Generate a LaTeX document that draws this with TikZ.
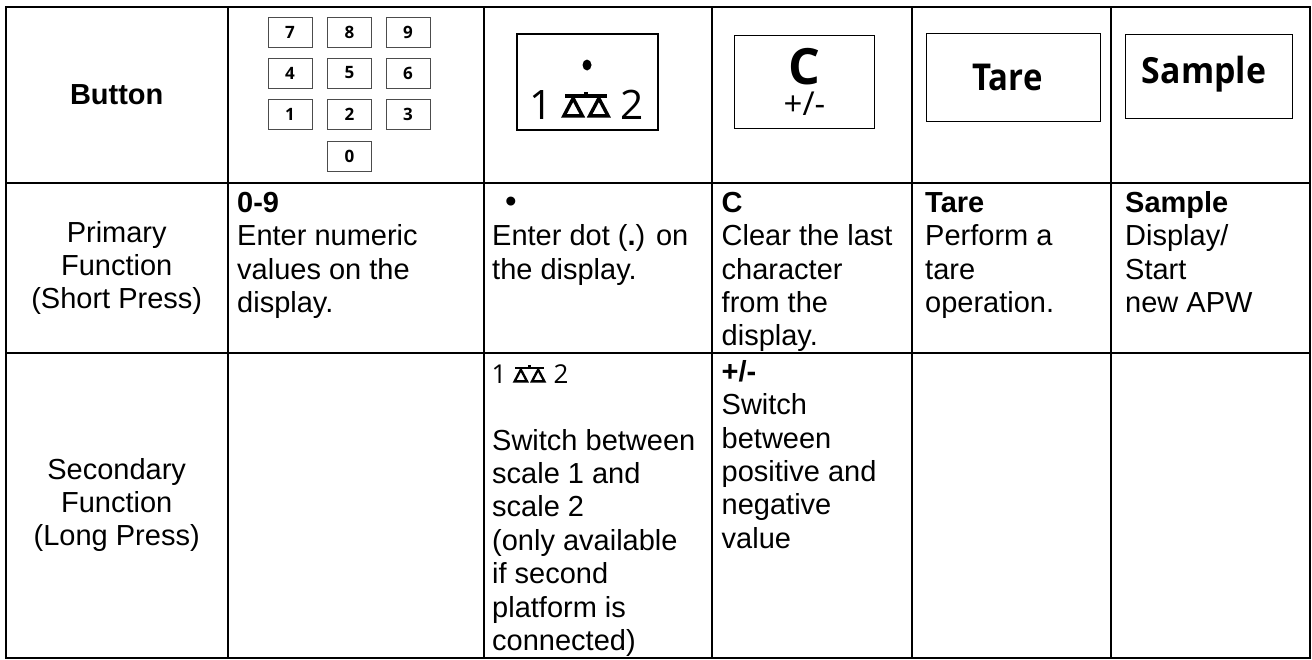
\documentclass[tikz,border=0pt]{standalone}
\usepackage{fontspec}
\setmainfont{Liberation Sans}
\newfontfamily\keyfont{Open Sans}
\newcommand{\cs}{\rule{0pt}{22pt}}
\newcommand{\drawbalance}[3]{\begin{scope}[shift={(#1,#2)},x=#3,y=#3]
\draw[line width=0.14*#3,line join=miter] (-.9,.07) -- (-.15,.07) -- (-.525,.78) -- cycle;
\draw[line width=0.14*#3,line join=miter] (.15,.07) -- (.9,.07) -- (.525,.78) -- cycle;
\fill (-.85,.8) rectangle (.85,.94);
\fill (-.09,.94) rectangle (.09,1.04);
\end{scope}}
\tikzset{
 x=1pt,y=-1pt,
 grid/.style={line width=1.7pt,black},
 cell/.style={anchor=north west,inner sep=0pt,align=left,font=\fontsize{29}{33.4}\selectfont},
 head/.style={anchor=center,inner sep=0pt,align=center,font=\fontsize{29}{33.4}\selectfont},
 numkey/.style={draw=black!70,line width=.8pt,minimum width=44pt,minimum height=30pt,inner sep=0pt,font=\keyfont\fontsize{17}{17}\selectfont\bfseries},
 bigkey/.style={draw=black,line width=1.2pt,inner sep=0pt},
 thinkey/.style={draw=black,line width=.8pt,inner sep=0pt},
 keylabel/.style={inner sep=0pt,anchor=base,font=\keyfont\fontsize{#1}{#1}\selectfont},
 boldlabel/.style={inner sep=0pt,anchor=base,font=\keyfont\fontsize{#1}{#1}\selectfont\bfseries},
}
\begin{document}
\begin{tikzpicture}
\useasboundingbox (0,0) rectangle (1312,659);
\fill[white] (0,0) rectangle (1312,659);
\coordinate (tl) at (6,6.7);
\coordinate (br) at (1310,658);
\foreach \xx in {228,484,712,912,1111}{\draw[grid] (\xx,6.7) -- (\xx,658);}
\foreach \yy in {183,353}{\draw[grid] (6,\yy) -- (1310,\yy);}
\draw[grid] (tl) rectangle (br);
\node[head,font=\fontsize{29}{33.4}\selectfont\bfseries] (btn) at (116.7,95) {Button};
\node[head] (prim) at (116.7,268) {Primary\\Function\\(Short Press)};
\node[head] (sec) at (116.7,505) {Secondary\\Function\\(Long Press)};
% keypad
\node[numkey] (k7) at (290,32) {7};
\node[numkey] (k8) at (349.5,32) {8};
\node[numkey] (k9) at (408,32) {9};
\node[numkey] (k4) at (290,73) {4};
\node[numkey] (k5) at (349.5,73) {5};
\node[numkey] (k6) at (408,73) {6};
\node[numkey] (k1) at (290,114) {1};
\node[numkey] (k2) at (349.5,114) {2};
\node[numkey] (k3) at (408,114) {3};
\node[numkey] (k0) at (349.5,156) {0};
% scale key
\node[bigkey,minimum width=141pt,minimum height=96pt] (kscale) at (587.5,82) {};
\fill (587,65) ellipse (4.5pt and 5.5pt);
\node[keylabel=40.6] (sc1) at (541,119) {1};
\node[keylabel=40.6] (sc2) at (632,119) {2};
\drawbalance{586}{117.5}{24.5pt}
% C key
\node[bigkey,minimum width=140pt,minimum height=93pt] (kc) at (804.3,82.3) {};
\node[boldlabel=50] (cc) at (804,84) {C};
\node[keylabel=33] (pm) at (804.5,115.5) {+/-};
% tare, sample
\node[thinkey,minimum width=173.6pt,minimum height=88pt] (ktare) at (1013.5,77) {};
\node[boldlabel=37,xscale=.89] (ltare) at (1007.5,90) {Tare};
\node[thinkey,minimum width=167pt,minimum height=84pt] (ksample) at (1209.2,76.3) {};
\node[boldlabel=36,xscale=.94] (lsample) at (1204,83.3) {Sample};
% row 2
\node[cell] (r1) at (237,190) {\cs\textbf{0-9}\\Enter numeric\\values on the\\display.};
\node[cell] (r2) at (492,190) {\cs\hspace{13pt}{\fontsize{33}{33}\selectfont\textbullet}\\Enter dot (\textbf{.}) on\\the display.};
\node[cell] (r3) at (721.5,190) {\cs\textbf{C}\\Clear the last\\character\\from the\\display.};
\node[cell] (r4) at (925,190) {\cs\textbf{Tare}\\Perform a\\tare\\operation.};
\node[cell] (r5) at (1125,190) {\cs\textbf{Sample}\\Display/\\Start\\new APW};
% row 3
\node[cell] (s2) at (492,361) {\cs\\\\Switch between\\scale 1 and\\scale 2\\(only available\\if second\\platform is\\connected)};
\node[keylabel=26] (sm1) at (499,383) {1};
\node[keylabel=26] (sm2) at (561,383) {2};
\drawbalance{529.5}{382.5}{16.5pt}
\node[cell] (s3) at (721.5,359) {\cs\textbf{+/-}\\Switch\\between\\positive and\\negative\\value};
\end{tikzpicture}
\end{document}
